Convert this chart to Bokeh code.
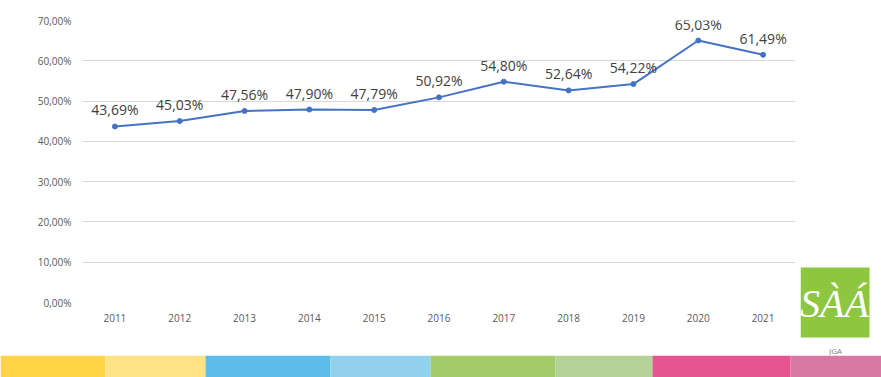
from bokeh.plotting import figure
from bokeh.models import (FactorRange, Range1d, ColumnDataSource, CustomJSTickFormatter,
                          FixedTicker)
from bokeh.layouts import column, row
from bokeh.core.properties import value
from bokeh.embed import file_html
from bokeh.resources import INLINE

years = ["2011", "2012", "2013", "2014", "2015", "2016", "2017", "2018", "2019", "2020", "2021"]
rates = [43.69, 45.03, 47.56, 47.90, 47.79, 50.92, 54.80, 52.64, 54.22, 65.03, 61.49]
y_ticks = [0, 10, 20, 30, 40, 50, 60, 70]

strip_widths = [105, 100, 125, 100, 125, 97, 138, 91]
strip_colors = ["#FFD447", "#FFE384", "#5DBDE8", "#92D1EC", "#A2CB6A", "#B3D396", "#E35491", "#D879A3"]

labels = [("%.2f" % v).replace(".", ",") + "%" for v in rates]
src = ColumnDataSource(dict(x=years, y=rates, lab=labels))

p = figure(width=800, height=355, x_range=FactorRange(*years, range_padding=0),
           y_range=Range1d(0, 70), output_backend="svg", toolbar_location=None, tools="",
           min_border_left=82, min_border_right=5, min_border_top=20, min_border_bottom=53,
           frame_align=False)
p.outline_line_color = None
p.background_fill_color = "white"
p.border_fill_color = "white"

p.yaxis.ticker = FixedTicker(ticks=y_ticks)
p.yaxis.formatter = CustomJSTickFormatter(code="return tick.toFixed(2).replace('.', ',') + '%';")
for ax in (p.xaxis[0], p.yaxis[0]):
    ax.axis_line_color = None
    ax.major_tick_line_color = None
    ax.minor_tick_line_color = None
    ax.major_label_text_font = "Open Sans"
    ax.major_label_text_font_size = "10px"
    ax.major_label_text_color = "#595959"
p.yaxis.major_label_standoff = 5
p.xaxis.major_label_standoff = 5
p.xgrid.grid_line_color = None
p.ygrid.grid_line_color = "#d9d9d9"
p.ygrid.grid_line_width = 1

p.line("x", "y", source=src, line_color="#4472C4", line_width=2)
p.scatter("x", "y", source=src, size=5, fill_color="#4472C4", line_color="#4472C4")
p.text("x", "y", text="lab", source=src, text_align="center", text_baseline="bottom",
       y_offset=-7, text_font=value("Open Sans"), text_font_size="14px", text_color="#404040")

# logo panel
lg = figure(width=81, height=355, x_range=Range1d(0, 81), y_range=Range1d(355, 0),
            output_backend="svg", toolbar_location=None, tools="", frame_align=False,
            min_border=0, min_border_left=0, min_border_right=0, min_border_top=0, min_border_bottom=0)
lg.axis.visible = False
lg.grid.visible = False
lg.outline_line_color = None
lg.border_fill_color = "white"
lg.background_fill_color = "white"
lg.quad(left=[0], right=[69], top=[267], bottom=[337], fill_color="#8DC63F", line_color=None)
lg.text(x=[34], y=[303], text=["SÀÁ"], text_align="center", text_baseline="middle",
        text_font=value("Liberation Serif"), text_font_style="italic", text_font_size="40px",
        text_color="white")
lg.text(x=[35], y=[350], text=["JGA"], text_align="center", text_baseline="middle",
        text_font=value("Open Sans"), text_font_size="8px", text_color="#808080")

# colour strip
lefts = []
acc = 0
for w in strip_widths:
    lefts.append(acc)
    acc += w
rights = [l + w for l, w in zip(lefts, strip_widths)]
st = figure(width=881, height=22, x_range=Range1d(0, 881), y_range=Range1d(0, 1),
            output_backend="svg", toolbar_location=None, tools="", frame_align=False,
            min_border=0, min_border_left=0, min_border_right=0, min_border_top=0, min_border_bottom=0)
st.axis.visible = False
st.grid.visible = False
st.outline_line_color = None
st.border_fill_color = "white"
st.quad(left=lefts, right=rights, top=1, bottom=0, fill_color=strip_colors, line_color=None)

layout = column(row(p, lg, spacing=0), st, spacing=0)
open("out.html", "w").write(file_html(layout, INLINE))
